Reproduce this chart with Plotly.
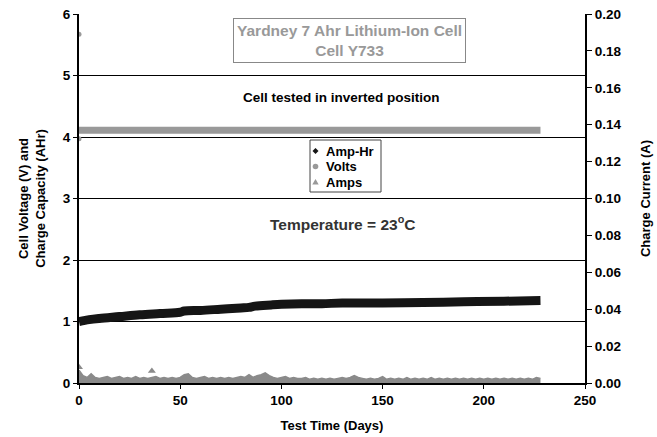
import plotly.graph_objects as go

# ---- data ----
amphr_days = [0, 5, 10, 20, 30, 40, 50, 52, 60, 70, 80, 84, 87, 95, 100, 110, 120, 130, 150, 170, 190, 210, 228]
amphr_vals = [1.00, 1.03, 1.05, 1.08, 1.11, 1.13, 1.15, 1.17, 1.18, 1.20, 1.22, 1.23, 1.25, 1.27, 1.28, 1.29, 1.29,
              1.30, 1.30, 1.31, 1.32, 1.33, 1.34]

volt_days = [0, 50, 100, 150, 200, 228]
volt_vals = [4.11, 4.11, 4.11, 4.11, 4.11, 4.11]
volt_start_days = [0, 0]
volt_start_vals = [5.67, 3.97]

amp_days = [0, 2, 4, 6, 8, 10, 12, 14, 16, 18, 20, 22, 24, 26, 28, 30, 32, 34, 36, 38,
            40, 42, 44, 46, 48, 50, 52, 54, 56, 58, 60, 62, 64, 66, 68, 70, 72, 74, 76, 78,
            80, 82, 84, 86, 88, 90, 92, 94, 96, 98, 100, 102, 104, 106, 108, 110, 112, 114, 116, 118,
            120, 122, 124, 126, 128, 130, 132, 134, 136, 138, 140, 142, 144, 146, 148, 150, 152, 154, 156, 158,
            160, 162, 164, 166, 168, 170, 172, 174, 176, 178, 180, 182, 184, 186, 188, 190, 192, 194, 196, 198,
            200, 202, 204, 206, 208, 210, 212, 214, 216, 218, 220, 222, 224, 226, 228]
amp_vals = [0.0070, 0.0040, 0.0030, 0.0050, 0.0030, 0.0025, 0.0030, 0.0035, 0.0025, 0.0030,
            0.0035, 0.0025, 0.0030, 0.0025, 0.0035, 0.0025, 0.0030, 0.0025, 0.0030, 0.0035,
            0.0025, 0.0030, 0.0025, 0.0030, 0.0025, 0.0030, 0.0045, 0.0050, 0.0030, 0.0025,
            0.0030, 0.0035, 0.0025, 0.0030, 0.0025, 0.0030, 0.0025, 0.0030, 0.0025, 0.0030,
            0.0035, 0.0030, 0.0045, 0.0030, 0.0040, 0.0045, 0.0055, 0.0040, 0.0030, 0.0025,
            0.0030, 0.0035, 0.0025, 0.0030, 0.0025, 0.0025, 0.0030, 0.0020, 0.0025, 0.0020,
            0.0025, 0.0020, 0.0025, 0.0020, 0.0025, 0.0030, 0.0025, 0.0030, 0.0040, 0.0030,
            0.0025, 0.0020, 0.0025, 0.0020, 0.0025, 0.0035, 0.0020, 0.0025, 0.0020, 0.0025,
            0.0020, 0.0030, 0.0020, 0.0025, 0.0020, 0.0025, 0.0020, 0.0030, 0.0020, 0.0025,
            0.0020, 0.0025, 0.0020, 0.0025, 0.0020, 0.0025, 0.0020, 0.0025, 0.0020, 0.0025,
            0.0020, 0.0025, 0.0020, 0.0025, 0.0020, 0.0025, 0.0020, 0.0025, 0.0020, 0.0025,
            0.0020, 0.0025, 0.0020, 0.0030, 0.0025]
amp_spike_days = [0, 36]
amp_spike_vals = [0.0085, 0.0065]

x_ticks = [0, 50, 100, 150, 200, 250]
y_ticks = [0, 1, 2, 3, 4, 5, 6]
y2_ticks = [0.00, 0.02, 0.04, 0.06, 0.08, 0.10, 0.12, 0.14, 0.16, 0.18, 0.20]

legend_names = ["Amp-Hr", "Volts", "Amps"]
legend_colors = ["#151515", "#999999", "#999999"]

FONT = "Arial, 'Liberation Sans', sans-serif"
GRAY = "#8a8a8a"

# plot-area geometry in pixels (for placing annotations)
L, R, T, B = 79, 585, 14, 383
W, H = R - L, B - T


def px(x):
    return (x - L) / W


def py(y):
    return (B - y) / H


fig = go.Figure()

# Amps (right axis)
fig.add_trace(go.Scatter(x=amp_days, y=amp_vals, yaxis="y2", mode="lines",
                         line=dict(color=GRAY, width=1.5), fill="tozeroy",
                         fillcolor=GRAY, showlegend=False, hoverinfo="skip"))
fig.add_trace(go.Scatter(x=amp_spike_days, y=amp_spike_vals, yaxis="y2", mode="markers",
                         marker=dict(symbol="triangle-up", color=GRAY, size=7),
                         showlegend=False))
# Volts
fig.add_trace(go.Scatter(x=volt_days, y=volt_vals, mode="lines",
                         line=dict(color="#999999", width=7), showlegend=False))
fig.add_trace(go.Scatter(x=volt_start_days, y=volt_start_vals, mode="markers",
                         marker=dict(symbol="circle", color="#999999", size=5), showlegend=False))
# Amp-Hr
fig.add_trace(go.Scatter(x=amphr_days, y=amphr_vals, mode="lines",
                         line=dict(color="#151515", width=9, shape="spline"), showlegend=False))

tickfont = dict(family=FONT, size=13.5, color="black", weight="bold")
titlefont = dict(family=FONT, size=13, color="black", weight="bold")

fig.update_layout(
    width=657, height=437,
    margin=dict(l=L, r=657 - R, t=T, b=437 - B, autoexpand=False),
    paper_bgcolor="white", plot_bgcolor="white",
    font=dict(family=FONT, color="black"),
    showlegend=False,
    xaxis=dict(range=[0, 250], tickvals=x_ticks, showgrid=False, zeroline=False,
               showline=True, linecolor="black", linewidth=2, ticks="outside",
               ticklen=4, tickcolor="black", tickfont=tickfont, automargin=False,
               title=dict(text="Test Time (Days)", font=titlefont, standoff=14)),
    yaxis=dict(range=[0, 6], tickvals=y_ticks, showgrid=True, gridcolor="black",
               gridwidth=1, zeroline=False, showline=True, linecolor="black",
               linewidth=2, ticks="outside", ticklen=4, tickcolor="black",
               tickfont=tickfont, automargin=False,
               title=dict(text="Cell Voltage (V) and<br>Charge Capacity (AHr)",
                          font=titlefont, standoff=14)),
    yaxis2=dict(range=[0, 0.2], tickvals=y2_ticks, tickformat=".2f", overlaying="y",
                side="right", showgrid=False, zeroline=False, showline=True,
                linecolor="black", linewidth=2, ticks="outside", ticklen=5,
                tickcolor="black", tickfont=tickfont, automargin=False,
                title=dict(text="Charge Current (A)", font=titlefont, standoff=20)),
)

# title box
fig.add_annotation(xref="paper", yref="paper", x=px(349.5), y=py(40),
                   text="Yardney 7 Ahr Lithium-Ion Cell<br>Cell Y733", showarrow=False,
                   font=dict(family=FONT, size=15.5, color="#999999", weight="bold"),
                   bordercolor="#888888", borderwidth=1, borderpad=3, bgcolor="white",
                   align="center", xanchor="center", yanchor="middle")
fig.add_annotation(xref="paper", yref="paper", x=px(341), y=py(97),
                   text="Cell tested in inverted position", showarrow=False,
                   font=dict(family=FONT, size=13.5, color="black", weight="bold"),
                   xanchor="center", yanchor="middle")
fig.add_annotation(xref="paper", yref="paper", x=px(342), y=py(223),
                   text="Temperature = 23<sup>o</sup>C", showarrow=False,
                   font=dict(family=FONT, size=15.5, color="#333333", weight="bold"),
                   xanchor="center", yanchor="middle")

# legend box (drawn manually to match the compact original)
fig.add_shape(type="rect", xref="paper", yref="paper",
              x0=px(310), x1=px(381), y0=py(192), y1=py(140),
              line=dict(color="#444444", width=1), fillcolor="white", layer="above")
legend_rows = [151, 166.5, 182]
symbol_paths = [
    "M0,-3 L3,0 L0,3 L-3,0 Z",          # diamond
    None,                               # circle
    "M-3.2,-2.5 L3.2,-2.5 L0,3 Z",       # triangle (pixel y points up)
]
for name, col, row, path in zip(legend_names, legend_colors, legend_rows, symbol_paths):
    common = dict(xref="paper", yref="paper", xsizemode="pixel", ysizemode="pixel",
                  xanchor=px(315.5), yanchor=py(row), fillcolor=col,
                  line=dict(width=0), layer="above")
    if path is None:
        fig.add_shape(type="circle", x0=-2.8, x1=2.8, y0=-2.8, y1=2.8, **common)
    else:
        fig.add_shape(type="path", path=path, **common)
    fig.add_annotation(xref="paper", yref="paper", x=px(324), y=py(row),
                       text=name, showarrow=False, xanchor="left", yanchor="middle",
                       font=dict(family=FONT, size=13, color="black", weight="bold"))

fig.write_html("out.html")
